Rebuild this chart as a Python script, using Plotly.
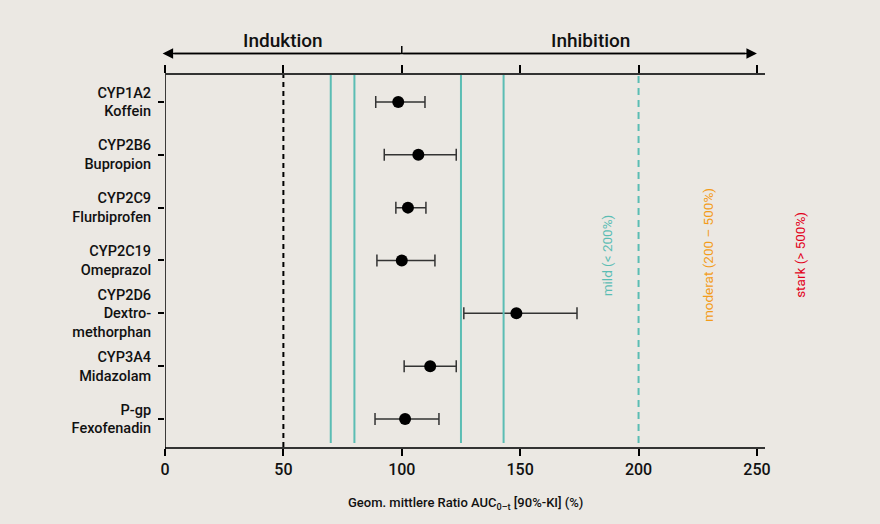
import plotly.graph_objects as go

# ---- data ----
categories = ["CYP1A2<br>Koffein", "CYP2B6<br>Bupropion", "CYP2C9<br>Flurbiprofen",
              "CYP2C19<br>Omeprazol", "CYP2D6<br>Dextro-<br>methorphan",
              "CYP3A4<br>Midazolam", "P-gp<br>Fexofenadin"]
ratio = [98.5, 107.0, 102.6, 100.0, 148.4, 112.0, 101.4]
ci_low = [89.0, 92.6, 97.5, 89.5, 126.2, 101.0, 88.7]
ci_high = [109.8, 123.0, 110.2, 114.0, 174.0, 123.0, 115.7]
x_ticks = [0, 50, 100, 150, 200, 250]
teal_lines = [70, 80, 125, 143]
induction_line = 50
mild_line = 200
arrow_center = 100
arrow_left = -1
arrow_right = 250

BG = "#ebe8e3"
DARK = "#333333"
TEAL = "#5bbdb4"
ORANGE = "#f39c1a"
RED = "#e2001a"
FONT = "Roboto, sans-serif"

err_plus = [h - r for h, r in zip(ci_high, ratio)]
err_minus = [r - l for r, l in zip(ratio, ci_low)]

fig = go.Figure()
fig.add_trace(go.Scatter(
    x=ratio, y=categories, mode="markers",
    marker=dict(color="black", size=12),
    error_x=dict(type="data", symmetric=False, array=err_plus, arrayminus=err_minus,
                 color=DARK, thickness=1.5, width=6),
    showlegend=False, hoverinfo="x+y",
))
# invisible trace on top axis so xaxis2 renders
fig.add_trace(go.Scatter(x=[None], y=[None], xaxis="x2", yaxis="y", showlegend=False))

shapes = []
for v in teal_lines:
    shapes.append(dict(type="line", xref="x", yref="paper", x0=v, x1=v, y0=0.011, y1=1,
                       line=dict(color=TEAL, width=2)))
shapes.append(dict(type="line", xref="x", yref="paper", x0=mild_line, x1=mild_line,
                   y0=0.011, y1=1, line=dict(color=TEAL, width=2, dash="7px,5px")))
shapes.append(dict(type="line", xref="x", yref="paper", x0=induction_line, x1=induction_line,
                   y0=0, y1=1, line=dict(color="black", width=2, dash="5px,4px")))
# left axis extension below bottom axis
shapes.append(dict(type="line", xref="x", yref="paper", x0=0, x1=0, y0=-0.018, y1=1,
                   line=dict(color="black", width=1.5)))
# top arrow shaft
shapes.append(dict(type="line", xref="x", yref="paper", x0=arrow_left + 5, x1=arrow_right - 5,
                   y0=1.058, y1=1.058, line=dict(color="black", width=1.5)))
# center tick on arrow
shapes.append(dict(type="line", xref="x", yref="paper", x0=arrow_center, x1=arrow_center,
                   y0=1.058, y1=1.078, line=dict(color="black", width=1.5)))

annotations = []
for tip in (arrow_left, arrow_right):
    annotations.append(dict(xref="x", yref="paper", x=tip, y=1.058, axref="x", ayref="pixel",
                            ax=arrow_center, ay=0, showarrow=True, arrowhead=2, arrowsize=1.4,
                            arrowwidth=1.5, arrowcolor="black", text=""))
for xv, txt in [(50, "Induktion"), (179.5, "Inhibition")]:
    annotations.append(dict(xref="x", yref="paper", x=xv, y=1.094, xanchor="center",
                            yanchor="middle", text=txt, showarrow=False,
                            font=dict(family=FONT, size=19, color="#111", weight=500)))
for xp, txt, col in [(0.737, "mild (< 200%)", TEAL), (0.905, "moderat (200 – 500%)", ORANGE),
                     (1.058, "stark (> 500%)", RED)]:
    annotations.append(dict(xref="paper", yref="paper", x=xp, y=0.516, xanchor="center",
                            yanchor="middle", text=txt, textangle=-90,
                            showarrow=False, font=dict(family=FONT, size=13.5, color=col)))
annotations.append(dict(xref="paper", yref="paper", x=0.5, y=-0.152, xanchor="center",
                        yanchor="middle",
                        text="Geom. mittlere Ratio AUC<sub>0–t</sub> [90%-KI] (%)", showarrow=False,
                        font=dict(family=FONT, size=13, color="#111", weight=500)))

xrange = [0, 253.4]
fig.update_layout(
    width=880, height=524,
    margin=dict(l=165, r=115, t=75, b=77),
    paper_bgcolor=BG, plot_bgcolor=BG,
    font=dict(family=FONT, color="#111"),
    xaxis=dict(range=xrange, tickvals=x_ticks, showgrid=False, zeroline=False,
               showline=True, linecolor=DARK, linewidth=2, ticks="outside", ticklen=7,
               tickwidth=1.5, tickcolor="black",
               tickfont=dict(family=FONT, size=16, color="#111", weight=500)),
    xaxis2=dict(range=xrange, tickvals=x_ticks, overlaying="x", side="top", showgrid=False,
                zeroline=False, showline=True, linecolor=DARK, linewidth=2, ticks="outside",
                ticklen=8, tickwidth=1.5, tickcolor="black", showticklabels=False),
    yaxis=dict(categoryorder="array", categoryarray=categories, range=[6.53, -0.51],
               showgrid=False, zeroline=False, showline=False, ticks="outside", ticklen=6,
               tickwidth=1.5, tickcolor="black", ticklabelstandoff=4,
               tickfont=dict(family=FONT, size=14.5, color="#111", weight=500)),
    shapes=shapes, annotations=annotations,
)

fig.write_html("out.html", config={"displayModeBar": False},
               post_script="document.body.style.margin='0';"
                           "document.body.style.background='" + BG + "';")
